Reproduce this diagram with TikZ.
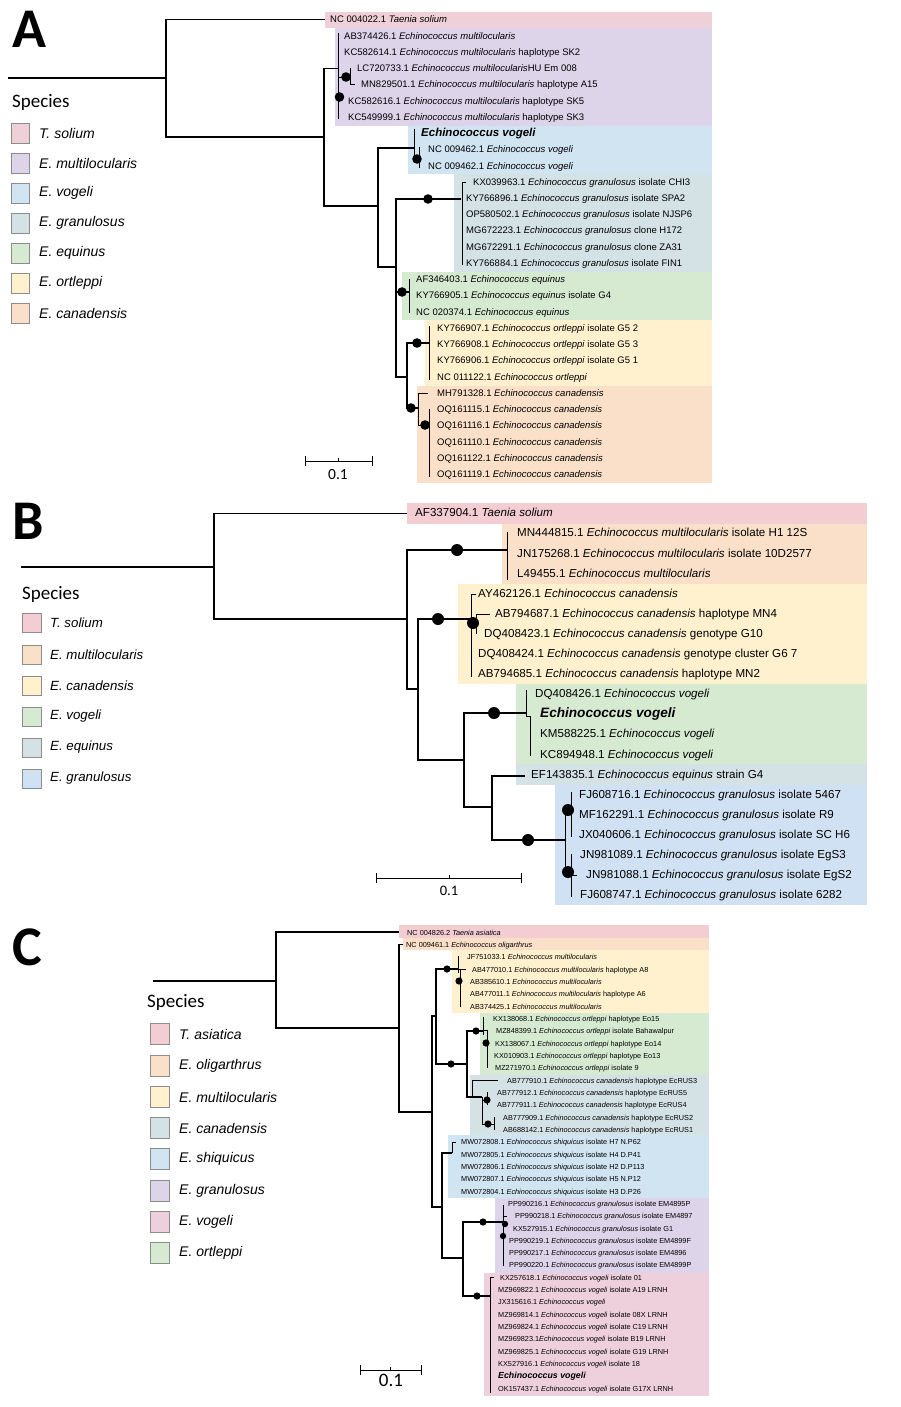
\documentclass[tikz,border=0pt]{standalone}
\usepackage{fontspec}
\setmainfont{Liberation Sans}
\newfontfamily\carl{Carlito}
\definecolor{pinkT}{HTML}{F0D0D8}
\definecolor{lav}{HTML}{DDD4EA}
\definecolor{lblue}{HTML}{D0E4F2}
\definecolor{gblue}{HTML}{D4E2E6}
\definecolor{lgreen}{HTML}{D6EAD2}
\definecolor{lyel}{HTML}{FFF1CE}
\definecolor{peach}{HTML}{FAE0C8}
\definecolor{pinkB}{HTML}{F3CDD2}
\definecolor{bblue}{HTML}{CFE1F2}
\definecolor{vpink}{HTML}{EDD0DC}
\newcommand{\Ech}[1]{\textit{Echinococcus #1}}
\newcommand{\bdot}[3]{\fill (#1,#2) circle (#3pt);}
\begin{document}
\begin{tikzpicture}[x=1pt,y=-1pt,
  br/.style={line width=1.3pt},
  tn/.style={line width=0.9pt},
  lblA/.style={anchor=west,inner sep=0pt,font=\fontsize{9.5}{10}\selectfont,text height=1.5ex,text depth=.25ex},
  lblB/.style={anchor=west,inner sep=0pt,font=\fontsize{11.6}{12}\selectfont,text height=1.5ex,text depth=.25ex},
  lblC/.style={anchor=west,inner sep=0pt,font=\fontsize{7.3}{8}\selectfont,text height=1.5ex,text depth=.25ex},
  sw/.style={draw=black!45,line width=0.8pt},
  legA/.style={anchor=west,inner sep=0pt,font=\fontsize{14}{16}\selectfont\itshape},
  legB/.style={anchor=west,inner sep=0pt,font=\fontsize{13.3}{15}\selectfont\itshape},
  spec/.style={anchor=west,inner sep=0pt,font=\carl\fontsize{19}{22}\selectfont},
  pl/.style={anchor=base west,inner sep=0pt,font=\carl\bfseries\fontsize{56}{60}\selectfont},
  sb/.style={anchor=center,inner sep=0pt}]
\useasboundingbox (0,0) rectangle (900,1407);
\fill[white] (0,0) rectangle (900,1407);

%%%%%%%%%%%%%%%%%%%% PANEL A %%%%%%%%%%%%%%%%%%%%
\node[pl] (lettA) at (12,48) {A};
% boxes
\fill[pinkT] (325,12) rectangle (712,28);
\fill[lav] (335,28) rectangle (712,126);
\fill[lblue] (408,126) rectangle (712,174);
\fill[gblue] (454,174) rectangle (712,272);
\fill[lgreen] (402,272) rectangle (712,320);
\fill[lyel] (425,320) rectangle (712,386);
\fill[peach] (417,386) rectangle (712,483);
% labels
\node[lblA] (a0) at (330,19.5) {NC 004022.1 \textit{Taenia solium}};
\node[lblA] (a1) at (344,36) {AB374426.1 \Ech{multilocularis}};
\node[lblA] (a2) at (344,52) {KC582614.1 \Ech{multilocularis} haplotype SK2};
\node[lblA] (a3) at (357,68.2) {LC720733.1 \Ech{multilocularis}HU Em 008};
\node[lblA] (a4) at (361,84.5) {MN829501.1 \Ech{multilocularis} haplotype A15};
\node[lblA] (a5) at (348,100.7) {KC582616.1 \Ech{multilocularis} haplotype SK5};
\node[lblA] (a6) at (348,117) {KC549999.1 \Ech{multilocularis} haplotype SK3};
\node[lblA,font=\fontsize{11.5}{12}\selectfont\bfseries\itshape] (a7) at (421,133.2) {Echinococcus vogeli};
\node[lblA] (a8) at (428,149.4) {NC 009462.1 \Ech{vogeli}};
\node[lblA] (a9) at (428,165.7) {NC 009462.1 \Ech{vogeli}};
\node[lblA] (a10) at (473,181.9) {KX039963.1 \Ech{granulosus} isolate CHI3};
\node[lblA] (a11) at (466,198.1) {KY766896.1 \Ech{granulosus} isolate SPA2};
\node[lblA] (a12) at (466,214.4) {OP580502.1 \Ech{granulosus} isolate NJSP6};
\node[lblA] (a13) at (466,230.6) {MG672223.1 \Ech{granulosus} clone H172};
\node[lblA] (a14) at (466,246.9) {MG672291.1 \Ech{granulosus} clone ZA31};
\node[lblA] (a15) at (466,263.1) {KY766884.1 \Ech{granulosus} isolate FIN1};
\node[lblA] (a16) at (416,279.3) {AF346403.1 \Ech{equinus}};
\node[lblA] (a17) at (416,295.6) {KY766905.1 \Ech{equinus} isolate G4};
\node[lblA] (a18) at (416,311.8) {NC 020374.1 \Ech{equinus}};
\node[lblA] (a19) at (437,328.1) {KY766907.1 \Ech{ortleppi} isolate G5 2};
\node[lblA] (a20) at (437,344.3) {KY766908.1 \Ech{ortleppi} isolate G5 3};
\node[lblA] (a21) at (437,360.5) {KY766906.1 \Ech{ortleppi} isolate G5 1};
\node[lblA] (a22) at (437,376.8) {NC 011122.1 \Ech{ortleppi}};
\node[lblA] (a23) at (437,393) {MH791328.1 \Ech{canadensis}};
\node[lblA] (a24) at (437,409.3) {OQ161115.1 \Ech{canadensis}};
\node[lblA] (a25) at (437,425.5) {OQ161116.1 \Ech{canadensis}};
\node[lblA] (a26) at (437,441.7) {OQ161110.1 \Ech{canadensis}};
\node[lblA] (a27) at (437,458) {OQ161122.1 \Ech{canadensis}};
\node[lblA] (a28) at (437,474.2) {OQ161119.1 \Ech{canadensis}};
% tree
\draw[br] (8,78)--(166,78);
\draw[br] (325,19.5)--(166,19.5)--(166,137)--(324,137);
\draw[br] (338,68.2)--(324,68.2)--(324,206)--(378,206);
\draw[tn] (338,33)--(338,119);
\draw[tn] (338,77)--(350,77);
\draw[tn] (350,68)--(350,84.5)--(355,84.5);
\bdot{339.5}{97}{4.8}
\bdot{346}{77}{4.8}
\draw[br] (414,148)--(378,148)--(378,267)--(396,267);
\draw[tn] (414,129)--(414,158)--(419,158);
\draw[tn] (419,147)--(419,168);
\bdot{417}{159}{4.8}
\draw[br] (461,199)--(396,199)--(396,377)--(407,377);
\bdot{428}{199}{4.8}
\draw[tn] (466,182)--(462,182)--(462,265);
\draw[br] (396,292)--(409,292);
\draw[tn] (409,279)--(409,313);
\bdot{402}{292}{4.8}
\draw[br] (429,343)--(407,343)--(407,408)--(418,408);
\draw[tn] (429,326)--(429,380);
\bdot{417}{343}{4.8}
\bdot{411}{408}{4.8}
\draw[tn] (428,393)--(418,393)--(418,425)--(429,425);
\draw[tn] (429,409)--(429,477);
\bdot{425}{425}{4.8}
% scale bar
\draw[tn] (305,461)--(372,461);
\draw[tn] (305,456)--(305,466);
\draw[tn] (372,456)--(372,466);
\draw[tn] (338.5,461)--(338.5,458);
\node[sb,font=\carl\fontsize{15.5}{17}\selectfont] (sA) at (338,475) {0.1};
% legend
\node[spec] (spA) at (12,102) {Species};
\draw[sw,fill=pinkT] (11,123) rectangle (29,143);
\node[legA] (lA1) at (39,133) {T. solium};
\draw[sw,fill=lav] (11,153) rectangle (29,173);
\node[legA] (lA2) at (39,163) {E. multilocularis};
\draw[sw,fill=lblue] (11,183) rectangle (29,203);
\node[legA] (lA3) at (39,193) {E. vogeli};
\draw[sw,fill=gblue] (11,213) rectangle (29,233);
\node[legA] (lA4) at (39,223) {E. granulosus};
\draw[sw,fill=lgreen] (11,243) rectangle (29,263);
\node[legA] (lA5) at (39,253) {E. equinus};
\draw[sw,fill=lyel] (11,273) rectangle (29,293);
\node[legA] (lA6) at (39,283) {E. ortleppi};
\draw[sw,fill=peach] (11,303) rectangle (29,323);
\node[legA] (lA7) at (39,313) {E. canadensis};

%%%%%%%%%%%%%%%%%%%% PANEL B %%%%%%%%%%%%%%%%%%%%
\node[pl] (lettB) at (12,539) {B};
\fill[pinkB] (407,503) rectangle (867,524);
\fill[peach] (502,524) rectangle (867,584);
\fill[lyel] (458,584) rectangle (867,684);
\fill[lgreen] (516,684) rectangle (867,764);
\fill[gblue] (516,764) rectangle (867,785);
\fill[bblue] (555,785) rectangle (867,905);
\node[lblB] (b0) at (415,513.5) {AF337904.1 \textit{Taenia solium}};
\node[lblB] (b1) at (517,533.6) {MN444815.1 \Ech{multilocularis} isolate H1 12S};
\node[lblB] (b2) at (517,553.7) {JN175268.1 \Ech{multilocularis} isolate 10D2577};
\node[lblB] (b3) at (517,573.8) {L49455.1 \Ech{multilocularis}};
\node[lblB] (b4) at (478,593.9) {AY462126.1 \Ech{canadensis}};
\node[lblB] (b5) at (495,614) {AB794687.1 \Ech{canadensis} haplotype MN4};
\node[lblB] (b6) at (484,634.1) {DQ408423.1 \Ech{canadensis} genotype G10};
\node[lblB] (b7) at (478,654.2) {DQ408424.1 \Ech{canadensis} genotype cluster G6 7};
\node[lblB] (b8) at (478,674.3) {AB794685.1 \Ech{canadensis} haplotype MN2};
\node[lblB] (b9) at (535,694.4) {DQ408426.1 \Ech{vogeli}};
\node[lblB,font=\fontsize{13.6}{14}\selectfont\bfseries\itshape] (b10) at (540,714.5) {Echinococcus vogeli};
\node[lblB] (b11) at (540,734.6) {KM588225.1 \Ech{vogeli}};
\node[lblB] (b12) at (540,754.7) {KC894948.1 \Ech{vogeli}};
\node[lblB] (b13) at (531,774.8) {EF143835.1 \Ech{equinus} strain G4};
\node[lblB] (b14) at (579,794.9) {FJ608716.1 \Ech{granulosus} isolate 5467};
\node[lblB] (b15) at (579,815) {MF162291.1 \Ech{granulosus} isolate R9};
\node[lblB] (b16) at (579,835.1) {JX040606.1 \Ech{granulosus} isolate SC H6};
\node[lblB] (b17) at (580,855.2) {JN981089.1 \Ech{granulosus} isolate EgS3};
\node[lblB] (b18) at (586,875.3) {JN981088.1 \Ech{granulosus} isolate EgS2};
\node[lblB] (b19) at (580,895.4) {FJ608747.1 \Ech{granulosus} isolate 6282};
% tree
\draw[br] (21,567)--(214,567);
\draw[br] (407,513.5)--(214,513.5)--(214,619)--(407,619);
\draw[br] (507,550)--(407,550)--(407,689)--(418,689);
\draw[tn] (507,532)--(507,580);
\bdot{457}{550}{6}
\draw[br] (471,619)--(418,619)--(418,760)--(464,760);
\bdot{438}{619}{6}
\draw[tn] (476,594)--(471,594)--(471,677);
\draw[tn] (471,624)--(476,624);
\draw[tn] (476,614)--(476,634);
\draw[tn] (476,614)--(490,614);
\bdot{473}{623}{6}
\draw[br] (526,713)--(464,713)--(464,807)--(492,807);
\bdot{494}{713}{6}
\draw[tn] (526,690)--(526,716)--(530,716)--(530,756);
\draw[br] (525,776)--(492,776)--(492,840)--(565,840);
\bdot{528}{840}{6}
\draw[tn] (571,810)--(565,810)--(565,872)--(571,872);
\draw[tn] (571,792)--(571,837);
\draw[tn] (571,854)--(571,897);
\draw[tn] (571,875)--(577,875);
\bdot{568}{810}{6}
\bdot{568}{872}{6}
% scale bar
\draw[tn] (376,878)--(521,878);
\draw[tn] (376,873)--(376,883);
\draw[tn] (521,873)--(521,883);
\draw[tn] (449,878)--(449,875);
\node[sb,font=\carl\fontsize{14.5}{16}\selectfont] (sB) at (449,891) {0.1};
% legend
\node[spec] (spB) at (22,594) {Species};
\draw[sw,fill=pinkB] (22,613) rectangle (41,632);
\node[legB] (lB1) at (50,623) {T. solium};
\draw[sw,fill=peach] (22,645) rectangle (41,664);
\node[legB] (lB2) at (50,654.5) {E. multilocularis};
\draw[sw,fill=lyel] (22,676) rectangle (41,695);
\node[legB] (lB3) at (50,685.5) {E. canadensis};
\draw[sw,fill=lgreen] (22,707) rectangle (41,726);
\node[legB] (lB4) at (50,716.5) {E. vogeli};
\draw[sw,fill=gblue] (22,738) rectangle (41,757);
\node[legB] (lB5) at (50,747.5) {E. equinus};
\draw[sw,fill=bblue] (22,769) rectangle (41,788);
\node[legB] (lB6) at (50,778.5) {E. granulosus};

%%%%%%%%%%%%%%%%%%%% PANEL C %%%%%%%%%%%%%%%%%%%%
\node[pl] (lettC) at (12,965) {C};
\fill[pinkB] (399,925) rectangle (709,938);
\fill[peach] (403,938) rectangle (709,950);
\fill[lyel] (452,950) rectangle (709,1013);
\fill[lgreen] (480,1013) rectangle (709,1075);
\fill[gblue] (470,1075) rectangle (709,1135);
\fill[lblue] (448,1135) rectangle (709,1198);
\fill[lav] (495,1198) rectangle (709,1273);
\fill[vpink] (484,1273) rectangle (709,1396);
\node[lblC] (c0) at (407,932) {NC 004826.2 \textit{Taenia asiatica}};
\node[lblC] (c1) at (406,944.3) {NC 009461.1 \Ech{oligarthrus}};
\node[lblC] (c2) at (467,956.6) {JF751033.1 \Ech{multilocularis}};
\node[lblC] (c3) at (472,969) {AB477010.1 \Ech{multilocularis} haplotype A8};
\node[lblC] (c4) at (470,981.3) {AB385610.1 \Ech{multilocularis}};
\node[lblC] (c5) at (470,993.6) {AB477011.1 \Ech{multilocularis} haplotype A6};
\node[lblC] (c6) at (470,1005.9) {AB374425.1 \Ech{multilocularis}};
\node[lblC] (c7) at (493,1018.2) {KX138068.1 \Ech{ortleppi} haplotype Eo15};
\node[lblC] (c8) at (496,1030.6) {MZ848399.1 \Ech{ortleppi} isolate Bahawalpur};
\node[lblC] (c9) at (495,1042.9) {KX138067.1 \Ech{ortleppi} haplotype Eo14};
\node[lblC] (c10) at (494,1055.2) {KX010903.1 \Ech{ortleppi} haplotype Eo13};
\node[lblC] (c11) at (495,1067.5) {MZ271970.1 \Ech{ortleppi} isolate 9};
\node[lblC] (c12) at (507,1079.8) {AB777910.1 \Ech{canadensis} haplotype EcRUS3};
\node[lblC] (c13) at (497,1092.2) {AB777912.1 \Ech{canadensis} haplotype EcRUS5};
\node[lblC] (c14) at (497,1104.5) {AB777911.1 \Ech{canadensis} haplotype EcRUS4};
\node[lblC] (c15) at (503,1116.8) {AB777909.1 \Ech{canadensis} haplotype EcRUS2};
\node[lblC] (c16) at (503,1129.1) {AB688142.1 \Ech{canadensis} haplotype EcRUS1};
\node[lblC] (c17) at (461,1141.4) {MW072808.1 \Ech{shiquicus} isolate H7 N.P62};
\node[lblC] (c18) at (461,1153.8) {MW072805.1 \Ech{shiquicus} isolate H4 D.P41};
\node[lblC] (c19) at (461,1166.1) {MW072806.1 \Ech{shiquicus} isolate H2 D.P113};
\node[lblC] (c20) at (461,1178.4) {MW072807.1 \Ech{shiquicus} isolate H5 N.P12};
\node[lblC] (c21) at (461,1190.7) {MW072804.1 \Ech{shiquicus} isolate H3 D.P26};
\node[lblC] (c22) at (508,1203) {PP990216.1 \Ech{granulosus} isolate EM4895P};
\node[lblC] (c23) at (515,1215.4) {PP990218.1 \Ech{granulosus} isolate EM4897};
\node[lblC] (c24) at (513,1227.7) {KX527915.1 \Ech{granulosus} isolate G1};
\node[lblC] (c25) at (509,1240) {PP990219.1 \Ech{granulosus} isolate EM4899F};
\node[lblC] (c26) at (509,1252.3) {PP990217.1 \Ech{granulosus} isolate EM4896};
\node[lblC] (c27) at (509,1264.6) {PP990220.1 \Ech{granulosus} isolate EM4899P};
\node[lblC] (c28) at (500,1277) {KX257618.1 \Ech{vogeli} isolate 01};
\node[lblC] (c29) at (498,1289.3) {MZ969822.1 \Ech{vogeli} isolate A19 LRNH};
\node[lblC] (c30) at (498,1301.6) {JX315616.1 \Ech{vogeli}};
\node[lblC] (c31) at (498,1313.9) {MZ969814.1 \Ech{vogeli} isolate 08X LRNH};
\node[lblC] (c32) at (498,1326.2) {MZ969824.1 \Ech{vogeli} isolate C19 LRNH};
\node[lblC] (c33) at (498,1338.6) {MZ969823.1\Ech{vogeli} isolate B19 LRNH};
\node[lblC] (c34) at (498,1350.9) {MZ969825.1 \Ech{vogeli} isolate G19 LRNH};
\node[lblC] (c35) at (498,1363.2) {KX527916.1 \Ech{vogeli} isolate 18};
\node[lblC,font=\fontsize{8.8}{9}\selectfont\bfseries\itshape] (c36) at (498,1375.5) {Echinococcus vogeli};
\node[lblC] (c37) at (498,1387.8) {OK157437.1 \Ech{vogeli} isolate G17X LRNH};
% tree
\draw[br] (153,981)--(276,981);
\draw[br] (399,932)--(276,932)--(276,1028)--(399,1028);
\draw[br] (403,944.3)--(399,944.3)--(399,1112)--(432,1112);
\draw[br] (436,1016)--(432,1016)--(432,1207)--(442,1207);
\draw[br] (458,969)--(436,969)--(436,1064)--(467,1064);
\bdot{447}{969}{3.6}
\bdot{451}{1064}{3.6}
\draw[tn] (458,956)--(458,973);
\draw[tn] (458,969)--(466,969);
\draw[tn] (460,969)--(460,1007);
\bdot{459}{981}{3.6}
\draw[br] (483,1031)--(467,1031)--(467,1097)--(482,1097);
\bdot{476}{1031}{3.6}
\draw[tn] (483,1017)--(483,1035);
\draw[tn] (483,1030)--(487,1030)--(487,1068);
\bdot{486}{1043}{3.6}
\draw[tn] (498,1080)--(472,1080)--(472,1097);
\draw[tn] (482,1097)--(482,1124)--(494,1124);
\draw[tn] (482,1100)--(487,1100);
\draw[tn] (487,1092)--(487,1105);
\draw[tn] (494,1117)--(494,1130);
\bdot{487}{1100}{3.6}
\bdot{488}{1124}{3.6}
\draw[br] (452,1153)--(442,1153)--(442,1258)--(463,1258);
\draw[tn] (452,1153)--(452,1142)--(456,1142);
\draw[br] (503,1222)--(463,1222)--(463,1296)--(490,1296);
\bdot{483}{1222}{3.6}
\bdot{477}{1296}{3.6}
\draw[tn] (503,1205)--(503,1266);
\draw[tn] (503,1216)--(507,1216);
\bdot{505}{1224}{3.2}
\bdot{503}{1236}{3.2}
\draw[tn] (494,1277)--(490,1277)--(490,1393);
% scale bar
\draw[tn] (360,1370)--(421,1370);
\draw[tn] (360,1365)--(360,1375);
\draw[tn] (421,1365)--(421,1375);
\draw[tn] (390,1370)--(390,1367);
\node[sb,font=\carl\fontsize{19}{21}\selectfont] (sC) at (391,1380) {0.1};
% legend
\node[spec] (spC) at (147,1002) {Species};
\draw[sw,fill=pinkB] (150,1023) rectangle (169,1044);
\node[legA] (lC1) at (179,1034) {T. asiatica};
\draw[sw,fill=peach] (150,1055) rectangle (169,1076);
\node[legA] (lC2) at (179,1065.5) {E. oligarthrus};
\draw[sw,fill=lyel] (150,1086) rectangle (169,1107);
\node[legA] (lC3) at (179,1097) {E. multilocularis};
\draw[sw,fill=gblue] (150,1117) rectangle (169,1138);
\node[legA] (lC4) at (179,1128) {E. canadensis};
\draw[sw,fill=lblue] (150,1148) rectangle (169,1169);
\node[legA] (lC5) at (179,1159) {E. shiquicus};
\draw[sw,fill=lav] (150,1180) rectangle (169,1201);
\node[legA] (lC6) at (179,1190.5) {E. granulosus};
\draw[sw,fill=vpink] (150,1211) rectangle (169,1232);
\node[legA] (lC7) at (179,1222) {E. vogeli};
\draw[sw,fill=lgreen] (150,1242) rectangle (169,1263);
\node[legA] (lC8) at (179,1253) {E. ortleppi};
\end{tikzpicture}
\end{document}
